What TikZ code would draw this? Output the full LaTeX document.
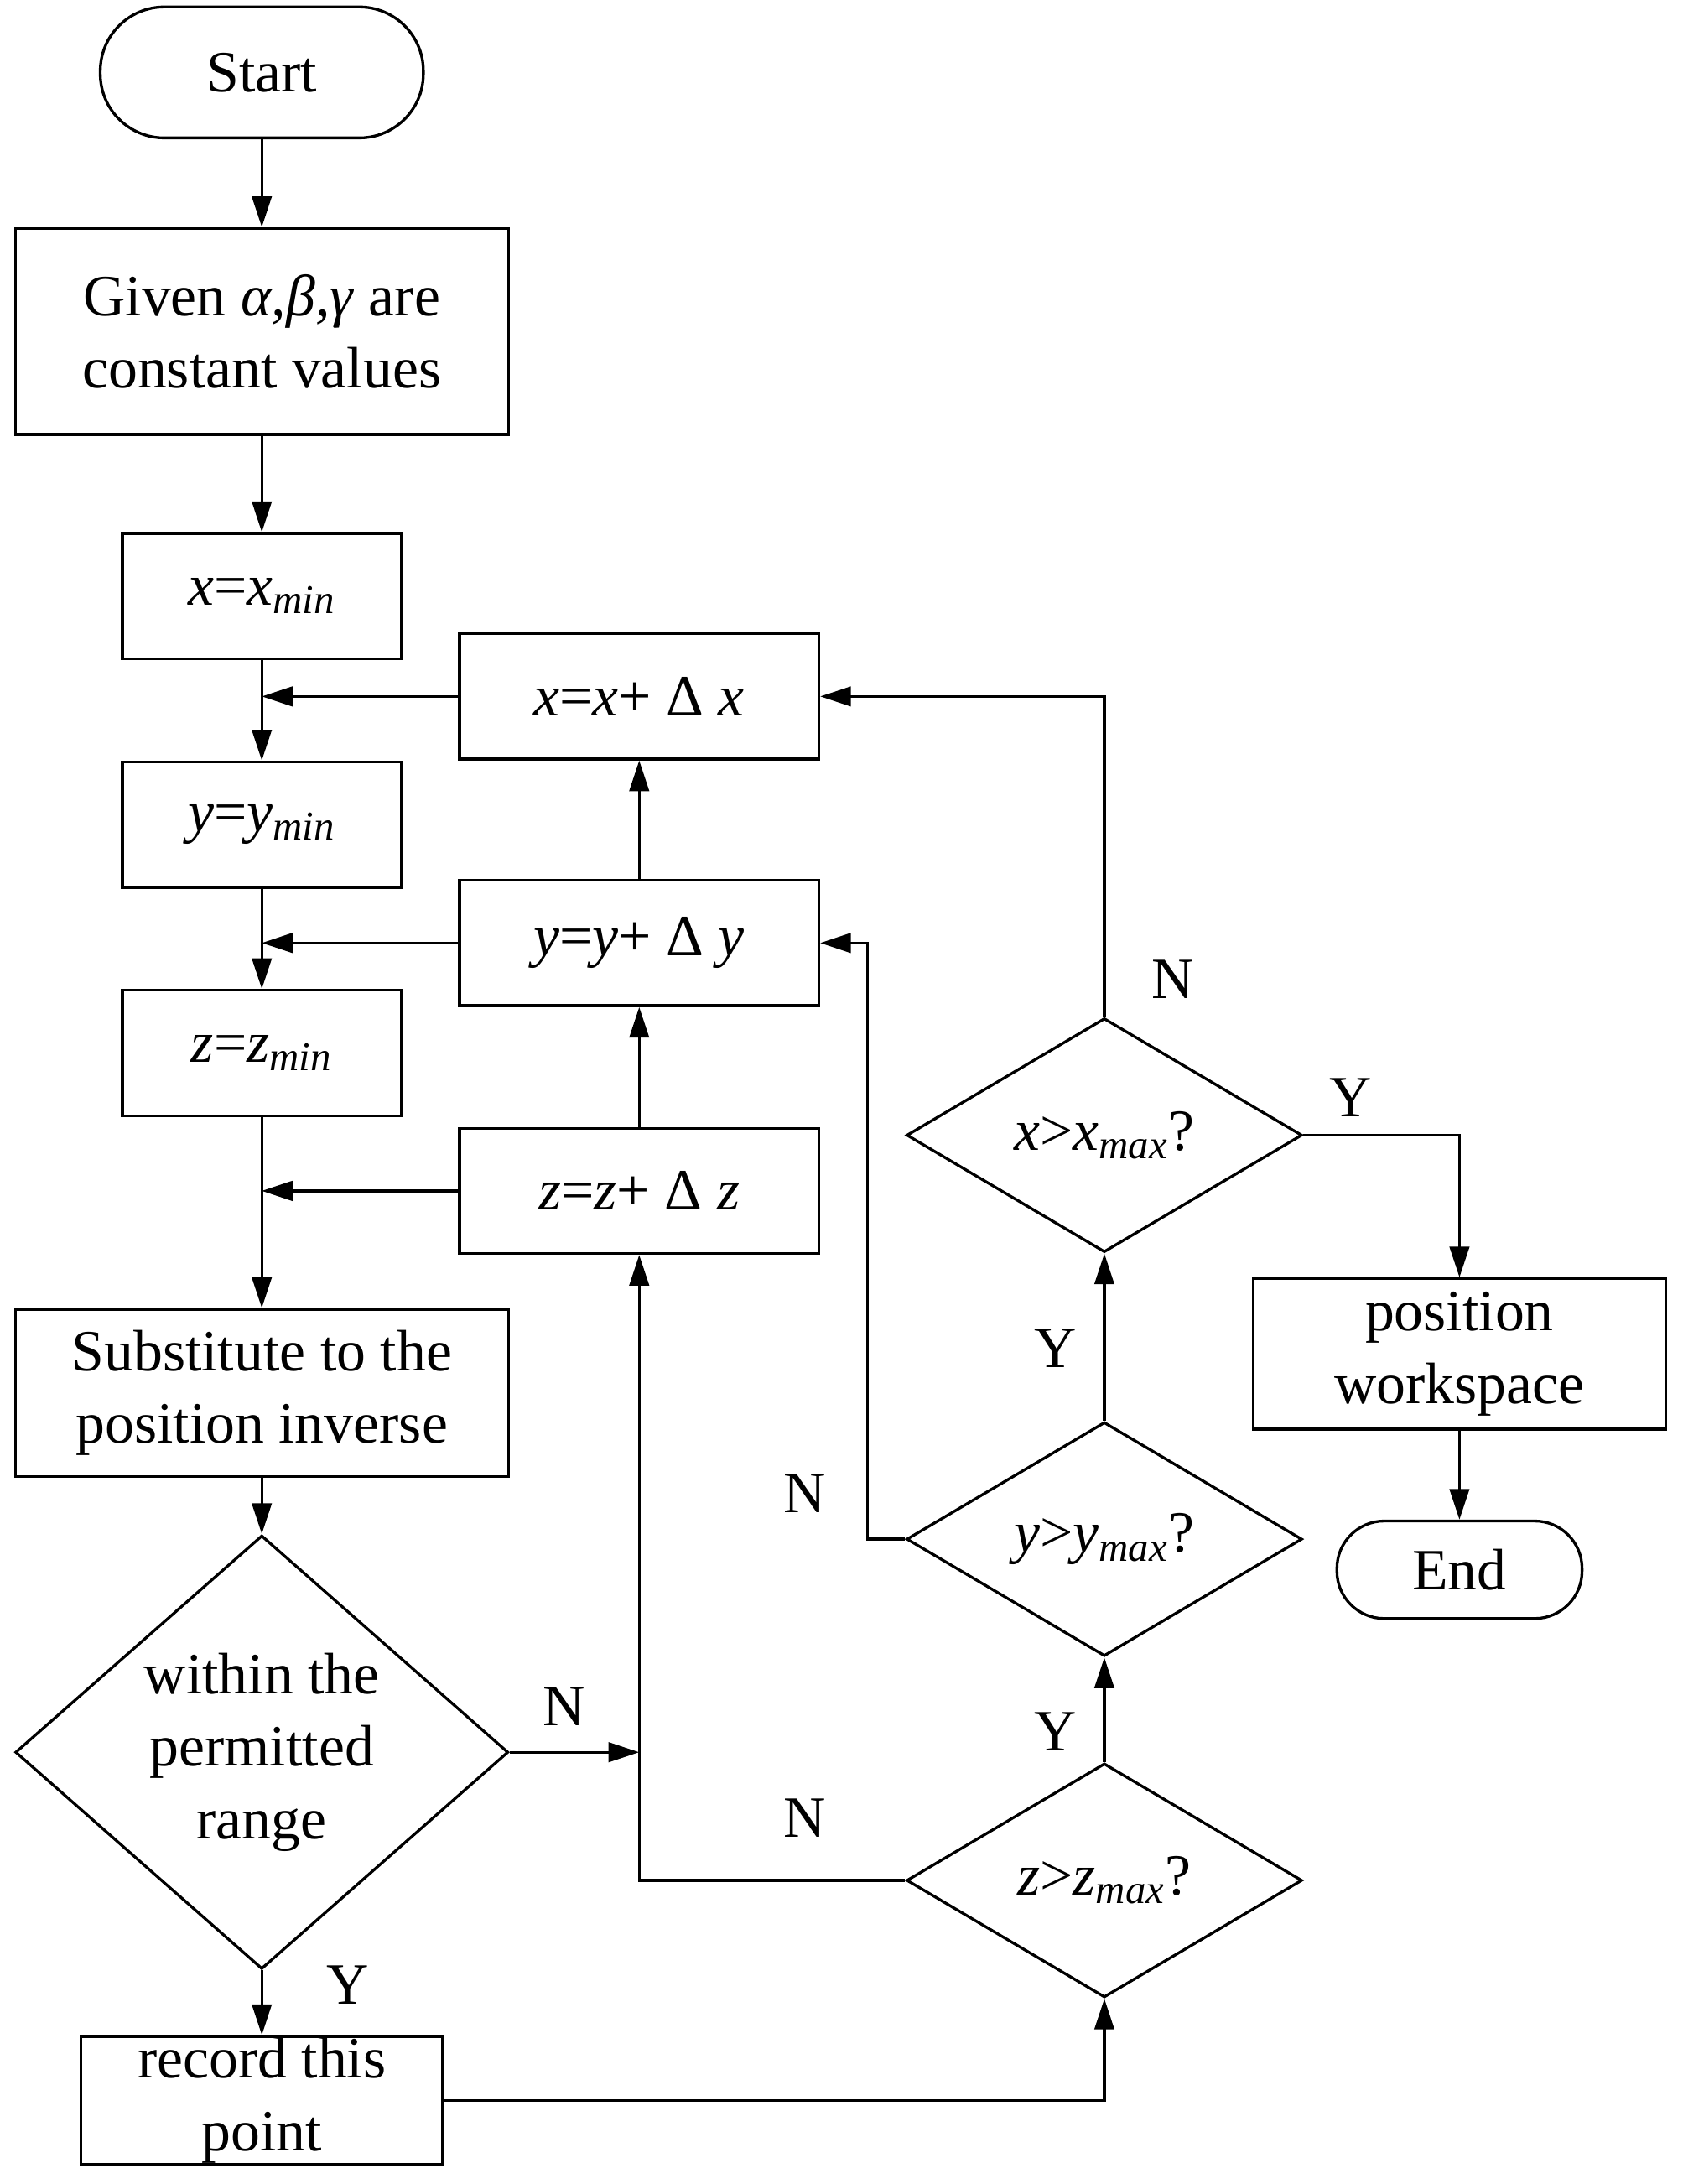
\documentclass[tikz,border=0pt]{standalone}
\usepackage{fontspec}
\setmainfont{Liberation Serif}
\usetikzlibrary{shapes.geometric,arrows.meta}
\tikzset{
  box/.style={draw,line width=1pt,rectangle,align=center,inner sep=0pt},
  term/.style={draw,line width=1pt,rectangle,rounded corners=23pt,inner sep=0pt},
  test/.style={draw,line width=1pt,diamond,aspect=1.7,inner sep=0pt,align=center},
  flow/.style={line width=1pt,-{Triangle[length=11pt,width=7pt]}},
  lbl/.style={font=\fontsize{21}{25}\selectfont}
}
\newcommand{\vr}[1]{\textit{#1}}
\begin{document}
\begin{tikzpicture}[x=0.5pt,y=0.5pt,yscale=-1,xscale=1,font=\fontsize{21}{26}\selectfont]
\useasboundingbox (0,0) rectangle (1208,1568);

% left column
\node[term,minimum width=116pt,minimum height=47pt] (start) at (188,52) {Start};
\node[box,minimum width=177pt,minimum height=74pt] (given) at (188,238) {Given \vr{α,β,γ} are\\constant values};
\node[box,minimum width=100pt,minimum height=45pt] (xmin) at (188,428) {\vr{x}=\vr{x}\textsubscript{\vr{min}}};
\node[box,minimum width=100pt,minimum height=45pt] (ymin) at (188,592) {\vr{y}=\vr{y}\textsubscript{\vr{min}}};
\node[box,minimum width=100pt,minimum height=45pt] (zmin) at (188,756) {\vr{z}=\vr{z}\textsubscript{\vr{min}}};
\node[box,minimum width=177pt,minimum height=60pt] (subst) at (188,1000) {Substitute to the\\position inverse};
\node[draw,line width=1pt,diamond,minimum width=177pt,minimum height=129pt,inner sep=0pt,align=center] (within) at (188,1258) {within the\\permitted\\range};
\node[box,minimum width=130pt,minimum height=46pt] (record) at (188,1508) {record this\\point};

% increment boxes
\node[box,minimum width=129pt,minimum height=45pt] (incx) at (459,500) {\vr{x}=\vr{x}+ Δ \vr{x}};
\node[box,minimum width=129pt,minimum height=45pt] (incy) at (459,677) {\vr{y}=\vr{y}+ Δ \vr{y}};
\node[box,minimum width=129pt,minimum height=45pt] (incz) at (459,855) {\vr{z}=\vr{z}+ Δ \vr{z}};

% tests
\node[draw,line width=1pt,diamond,minimum width=142pt,minimum height=84pt,inner sep=0pt] (tx) at (793,815) {\vr{x}>\vr{x}\textsubscript{\vr{max}}?};
\node[draw,line width=1pt,diamond,minimum width=142pt,minimum height=84pt,inner sep=0pt] (ty) at (793,1105) {\vr{y}>\vr{y}\textsubscript{\vr{max}}?};
\node[draw,line width=1pt,diamond,minimum width=142pt,minimum height=84pt,inner sep=0pt] (tz) at (793,1350) {\vr{z}>\vr{z}\textsubscript{\vr{max}}?};

\node[box,minimum width=148pt,minimum height=54pt] (ws) at (1048,972) {position\\workspace};
\node[term,minimum width=88pt,minimum height=35pt,rounded corners=17pt] (stop) at (1048,1127) {End};

% junctions
\coordinate (jx) at (188,500);
\coordinate (jy) at (188,677);
\coordinate (jz) at (188,855);
\coordinate (jn) at (459,1258);

% main column
\draw[flow] (start) -- (given);
\draw[flow] (given) -- (xmin);
\draw[flow] (xmin) -- (ymin);
\draw[flow] (ymin) -- (zmin);
\draw[flow] (zmin) -- (subst);
\draw[flow] (subst) -- (within);
\draw[flow] (within) -- (record);
\draw[flow] (incx) -- (jx);
\draw[flow] (incy) -- (jy);
\draw[flow] (incz) -- (jz);
\draw[flow] (incz) -- (incy);
\draw[flow] (incy) -- (incx);

% loops
\draw[flow] (record.east) -| (tz.south);
\draw[flow] (within.east) -- (jn);
\draw[flow] (tz.west) -| (incz.south);
\draw[flow] (tz.north) -- (ty.south);
\draw[flow] (ty.north) -- (tx.south);
\draw[flow] (ty.west) -- (623,1105) |- (incy.east);
\draw[flow] (tx.north) |- (incx.east);
\draw[flow] (tx.east) -| (ws.north);
\draw[flow] (ws) -- (stop);

% labels
\node[lbl] (ly1) at (250,1425) {Y};
\node[lbl] (ln1) at (405,1225) {N};
\node[lbl] (ln2) at (578,1305) {N};
\node[lbl] (ly2) at (758,1243) {Y};
\node[lbl] (ln3) at (578,1072) {N};
\node[lbl] (ly3) at (758,968) {Y};
\node[lbl] (ln4) at (842,703) {N};
\node[lbl] (ly4) at (970,788) {Y};
\end{tikzpicture}
\end{document}
